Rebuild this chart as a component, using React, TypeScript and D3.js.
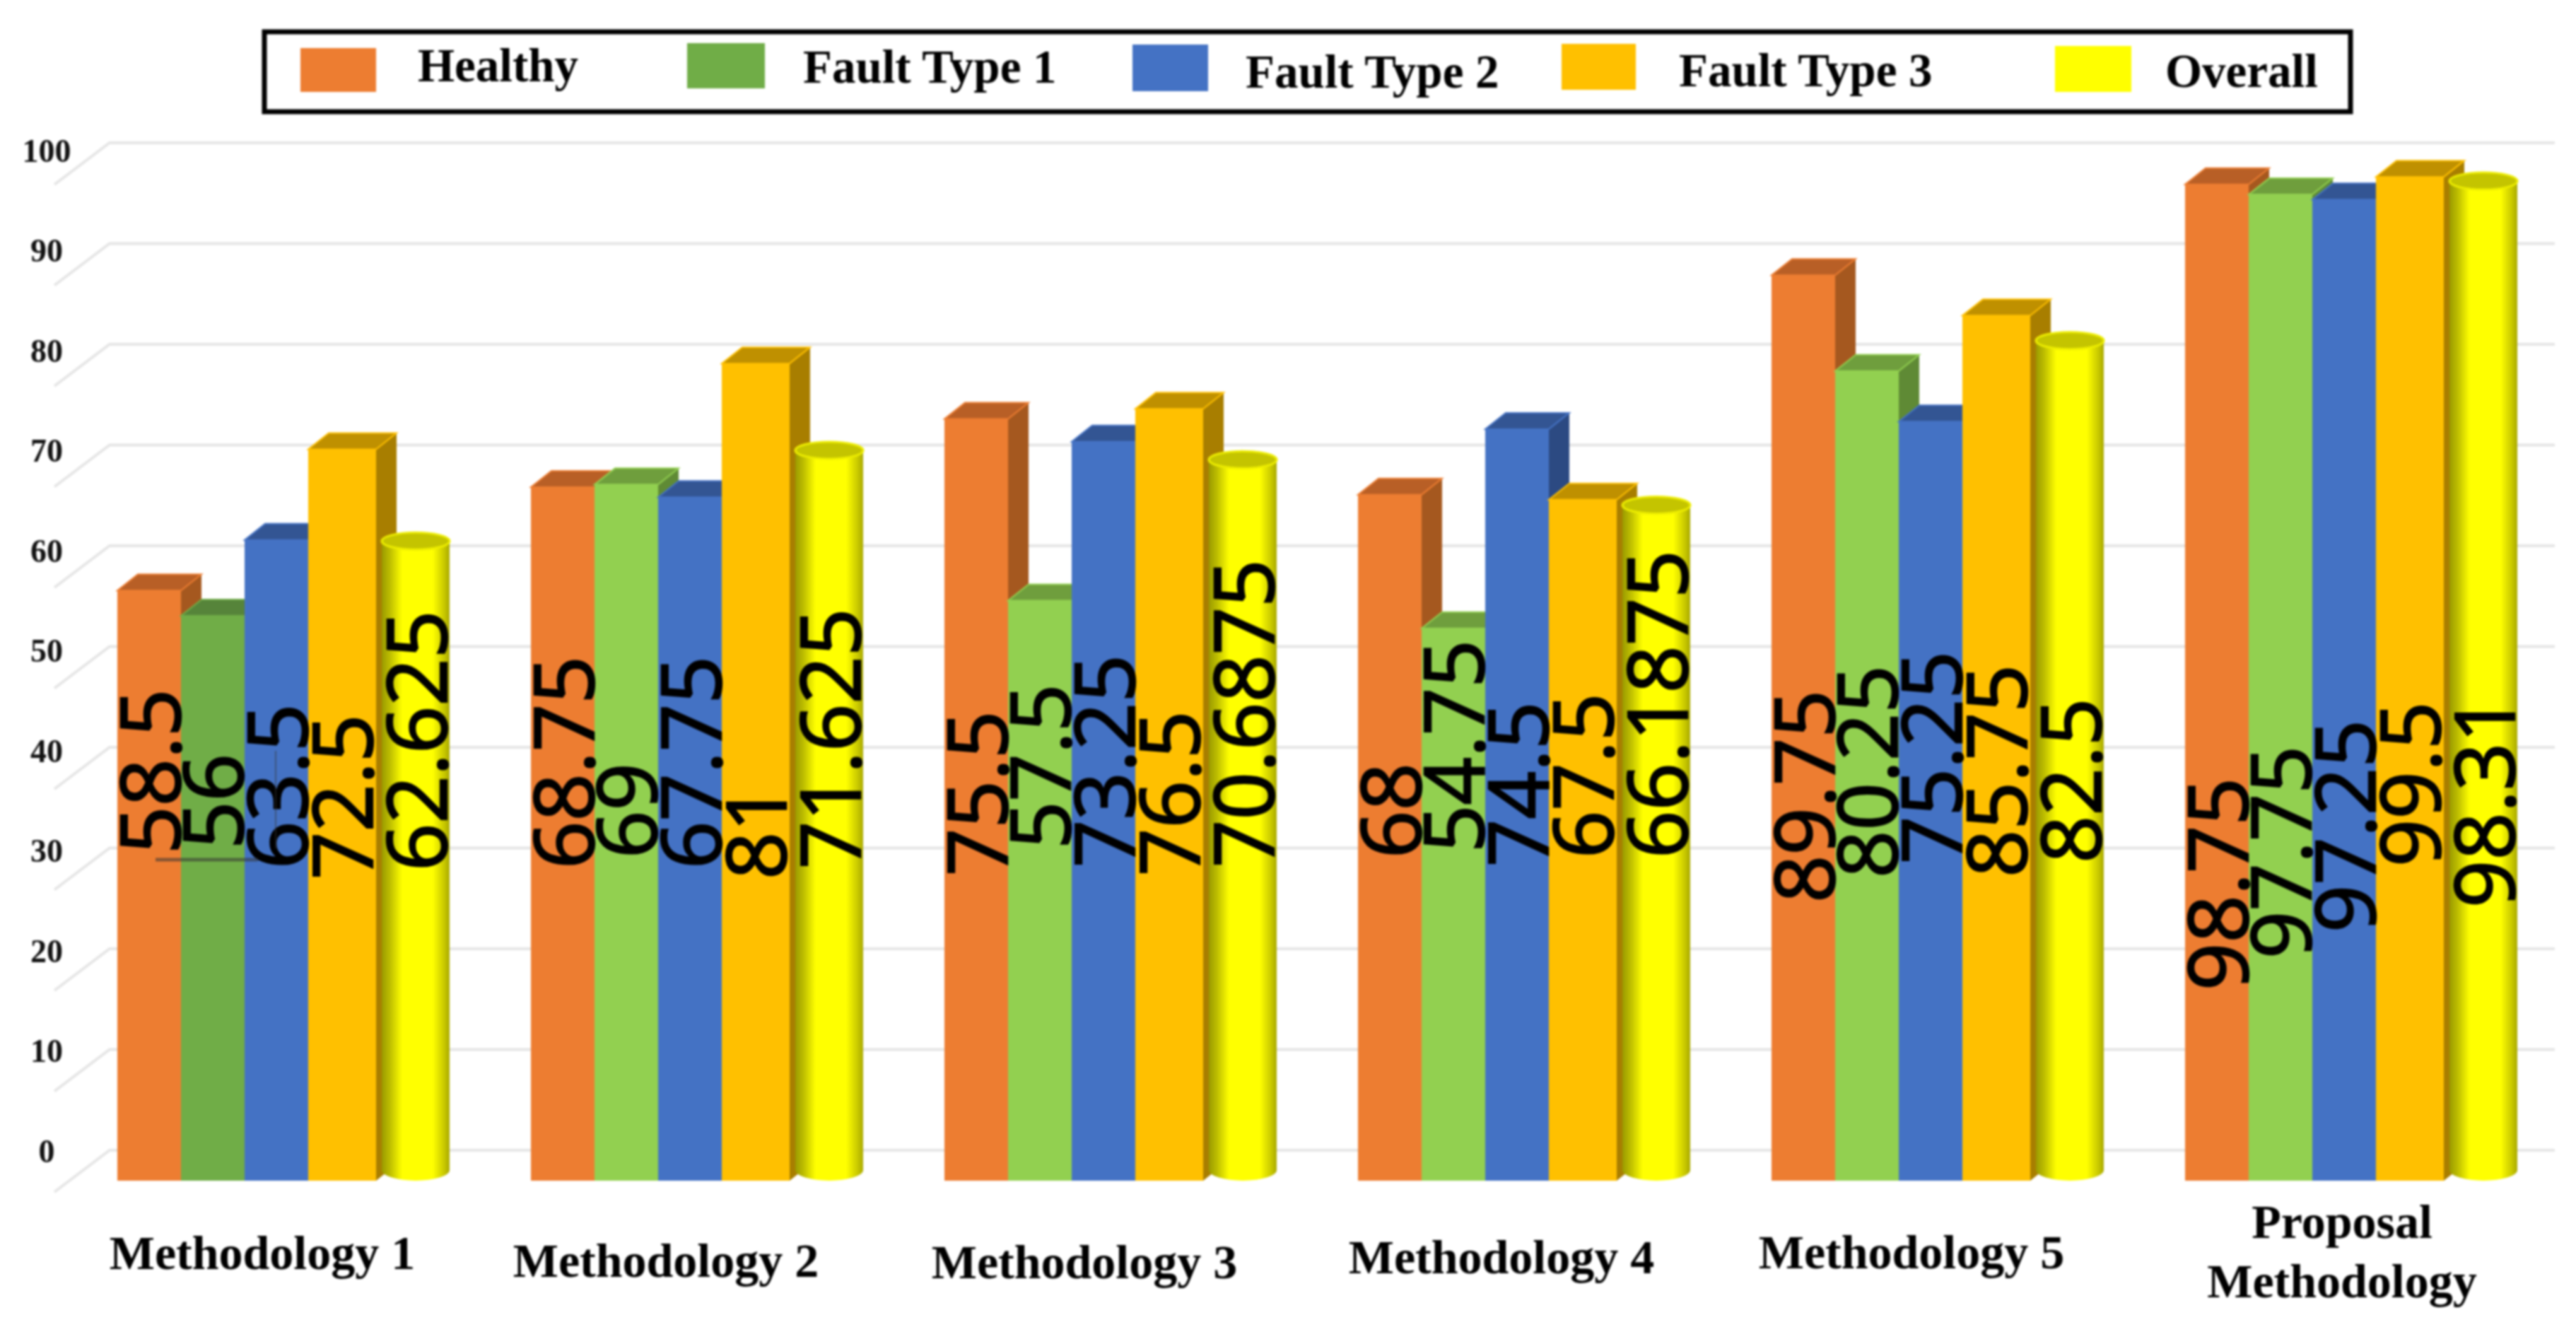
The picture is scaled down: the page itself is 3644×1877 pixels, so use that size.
import React from 'react';
import * as d3 from 'd3';

const categories = ['Methodology 1', 'Methodology 2', 'Methodology 3', 'Methodology 4', 'Methodology 5', 'Proposal Methodology'];
const seriesNames = ['Healthy', 'Fault Type 1', 'Fault Type 2', 'Fault Type 3', 'Overall'];
const healthy = [58.5, 68.75, 75.5, 68, 89.75, 98.75];
const fault1 = [56, 69, 57.5, 54.75, 80.25, 97.75];
const fault2 = [63.5, 67.75, 73.25, 74.5, 75.25, 97.25];
const fault3 = [72.5, 81, 76.5, 67.5, 85.75, 99.5];
const overall = [62.625, 71.625, 70.6875, 66.1875, 82.5, 98.31];
const yTicks = [0, 10, 20, 30, 40, 50, 60, 70, 80, 90, 100];
const seriesValues = [healthy, fault1, fault2, fault3, overall];

// Styles and layout, separate from the data
const FRONT = ['#ED7D31', '#92D050', '#4472C4', '#FFC000'];
const TOP = ['#B85F26', '#6F9E3D', '#335593', '#BF9000'];
const SIDE = ['#A5581F', '#5F8A35', '#2C4A82', '#A87E00'];
const W = 3644, H = 1877;
const FRONT_BASE = 1670, BACK_BASE = 1627, UNIT = 14.27;
const DEPTH_X = 29, DEPTH_Y = 23;
const BAR_W = 90, AMBER_W = 96, CYL_OFF = 374, CYL_W = 96;
const labelDx = [46, 135, 226, 318, 423];
const labelBottoms = [
  [1208, 1201, 1229, 1244, 1232],
  [1229, 1214, 1229, 1244, 1229],
  [1239, 1201, 1227, 1239, 1227],
  [1214, 1206, 1226, 1214, 1214],
  [1277, 1242, 1222, 1241, 1221],
  [1401, 1356, 1319, 1226, 1284],
];
const catLabelX = [371, 942, 1534, 2124, 2704, 3313];
const catLabelY = [1772, 1783, 1785, 1778, 1771];
const legendSwatch = [
  [425, 68, 107, 62], [972, 61, 110, 64], [1602, 63, 107, 66], [2209, 62, 105, 65], [2907, 65, 108, 65],
];
const legendText = [[591, 115], [1136, 117], [1762, 124], [2375, 122], [3063, 123]];

const xGroup = d3.scaleBand<string>().domain(categories).range([166, 166 + 585 * 6]);
const xSeries = d3.scaleBand<string>().domain(seriesNames.slice(0, 4)).range([0, BAR_W * 4]);
const yFront = d3.scaleLinear().domain([0, 100]).range([FRONT_BASE, FRONT_BASE - UNIT * 100]);
const yBack = d3.scaleLinear().domain([0, 100]).range([BACK_BASE, BACK_BASE - 14.25 * 100]);
const yTickPos = d3.scaleLinear().domain([0, 100]).range([1628, 213]);
const line = d3.line();
const poly = (pts: [number, number][]) => line(pts) + 'Z';

function Bar({ s, c }: { s: number; c: number }) {
  const x0 = xGroup(categories[c])! + xSeries(seriesNames[s])!;
  const w = s === 3 ? AMBER_W : BAR_W;
  const y = yFront(seriesValues[s][c]);
  const base = yFront(0);
  const muted = s === 1 && c === 0;
  const front = muted ? '#70AD47' : FRONT[s];
  const top = muted ? '#56843A' : TOP[s];
  return (
    <g>
      <path d={poly([[x0 + w, y], [x0 + w + DEPTH_X, y - DEPTH_Y], [x0 + w + DEPTH_X, base - DEPTH_Y], [x0 + w, base]])} fill={SIDE[s]} />
      <path d={poly([[x0, y], [x0 + w, y], [x0 + w + DEPTH_X, y - DEPTH_Y], [x0 + DEPTH_X, y - DEPTH_Y]])} fill={top} stroke={front} strokeWidth={2} />
      <rect x={x0} y={y} width={w} height={base - y} fill={front} />
    </g>
  );
}

function Cylinder({ c }: { c: number }) {
  const x0 = xGroup(categories[c])! + CYL_OFF;
  const rx = CYL_W / 2;
  const yt = yFront(overall[c]) - 11;
  const yb = yFront(0) - 15;
  const d = `M${x0},${yt}L${x0},${yb}A${rx},15 0 0 0 ${x0 + CYL_W},${yb}L${x0 + CYL_W},${yt}Z`;
  return (
    <g>
      <path d={d} fill="url(#cyl)" />
      <ellipse cx={x0 + rx} cy={yt} rx={rx} ry={12} fill="#C4C400" stroke="#EDED00" strokeWidth={3} />
    </g>
  );
}

export default function App() {
  return (
    <svg width={W} height={H} viewBox={`0 0 ${W} ${H}`}
      style={{ position: 'absolute', left: 0, top: 0, background: '#fff', filter: 'blur(1.5px)' }}>
      <defs>
        <linearGradient id="cyl" x1="0" x2="1" y1="0" y2="0">
          <stop offset="0" stopColor="#9A9A00" />
          <stop offset="0.12" stopColor="#BDBD00" />
          <stop offset="0.3" stopColor="#FFFF00" />
          <stop offset="0.75" stopColor="#FFFF00" />
          <stop offset="0.92" stopColor="#C8C800" />
          <stop offset="1" stopColor="#A8A800" />
        </linearGradient>
      </defs>

      {/* grid */}
      {yTicks.map(t => (
        <g key={t} fill="none">
          <path d={line([[77, yBack(t) + 59], [155, yBack(t)], [3614, yBack(t)]])!} stroke="#E5E5E5" strokeWidth={4} />
        </g>
      ))}
      {yTicks.map(t => (
        <text key={t} x={66} y={yTickPos(t)} textAnchor="middle" dominantBaseline="central"
          fontFamily="Liberation Serif" fontWeight={700} fontSize={46} fill="#111">{t}</text>
      ))}

      {/* bars */}
      {categories.map((cat, c) => (
        <g key={cat}>
          {[0, 1, 2, 3].map(s => <Bar key={s} s={s} c={c} />)}
          <Cylinder c={c} />
        </g>
      ))}

      {/* data labels */}
      {categories.map((cat, c) =>
        seriesValues.map((vals, s) => {
          const cx = xGroup(cat)! + labelDx[s];
          const yb = labelBottoms[c][s];
          return (
            <text key={s} transform={`translate(${cx + 43},${yb}) rotate(-90)`}
              fontFamily="Open Sans" fontSize={118} fill="#000" stroke="#000" strokeWidth={2.5}>{String(vals[c])}</text>
          );
        })
      )}
      {/* stray leader lines beside the first group's labels */}
      <path d={line([[220, 1216], [365, 1216]])!} stroke="#333" strokeOpacity={0.55} strokeWidth={5} fill="none" />
      <path d={line([[390, 1062], [390, 1200]])!} stroke="#333" strokeOpacity={0.5} strokeWidth={2} fill="none" />

      {/* category labels */}
      {categories.slice(0, 5).map((cat, c) => (
        <text key={cat} x={catLabelX[c]} y={catLabelY[c]} textAnchor="middle" dominantBaseline="central"
          fontFamily="Liberation Serif" fontWeight={700} fontSize={68} fill="#000">{cat}</text>
      ))}
      {categories[5].split(' ').map((part, i) => (
        <text key={part} x={catLabelX[5]} y={1728 + i * 84} textAnchor="middle" dominantBaseline="central"
          fontFamily="Liberation Serif" fontWeight={700} fontSize={68} fill="#000">{part}</text>
      ))}

      {/* legend */}
      <rect x={374} y={45} width={2951} height={113} fill="#fff" stroke="#000" strokeWidth={7} />
      {seriesNames.map((name, i) => (
        <g key={name}>
          <rect x={legendSwatch[i][0]} y={legendSwatch[i][1]} width={legendSwatch[i][2]} height={legendSwatch[i][3]}
            fill={i === 1 ? '#70AD47' : i === 4 ? '#FFFF00' : FRONT[i]} />
          <text x={legendText[i][0]} y={legendText[i][1]} fontFamily="Liberation Serif" fontWeight={700} fontSize={67} fill="#000">{name}</text>
        </g>
      ))}
    </svg>
  );
}
